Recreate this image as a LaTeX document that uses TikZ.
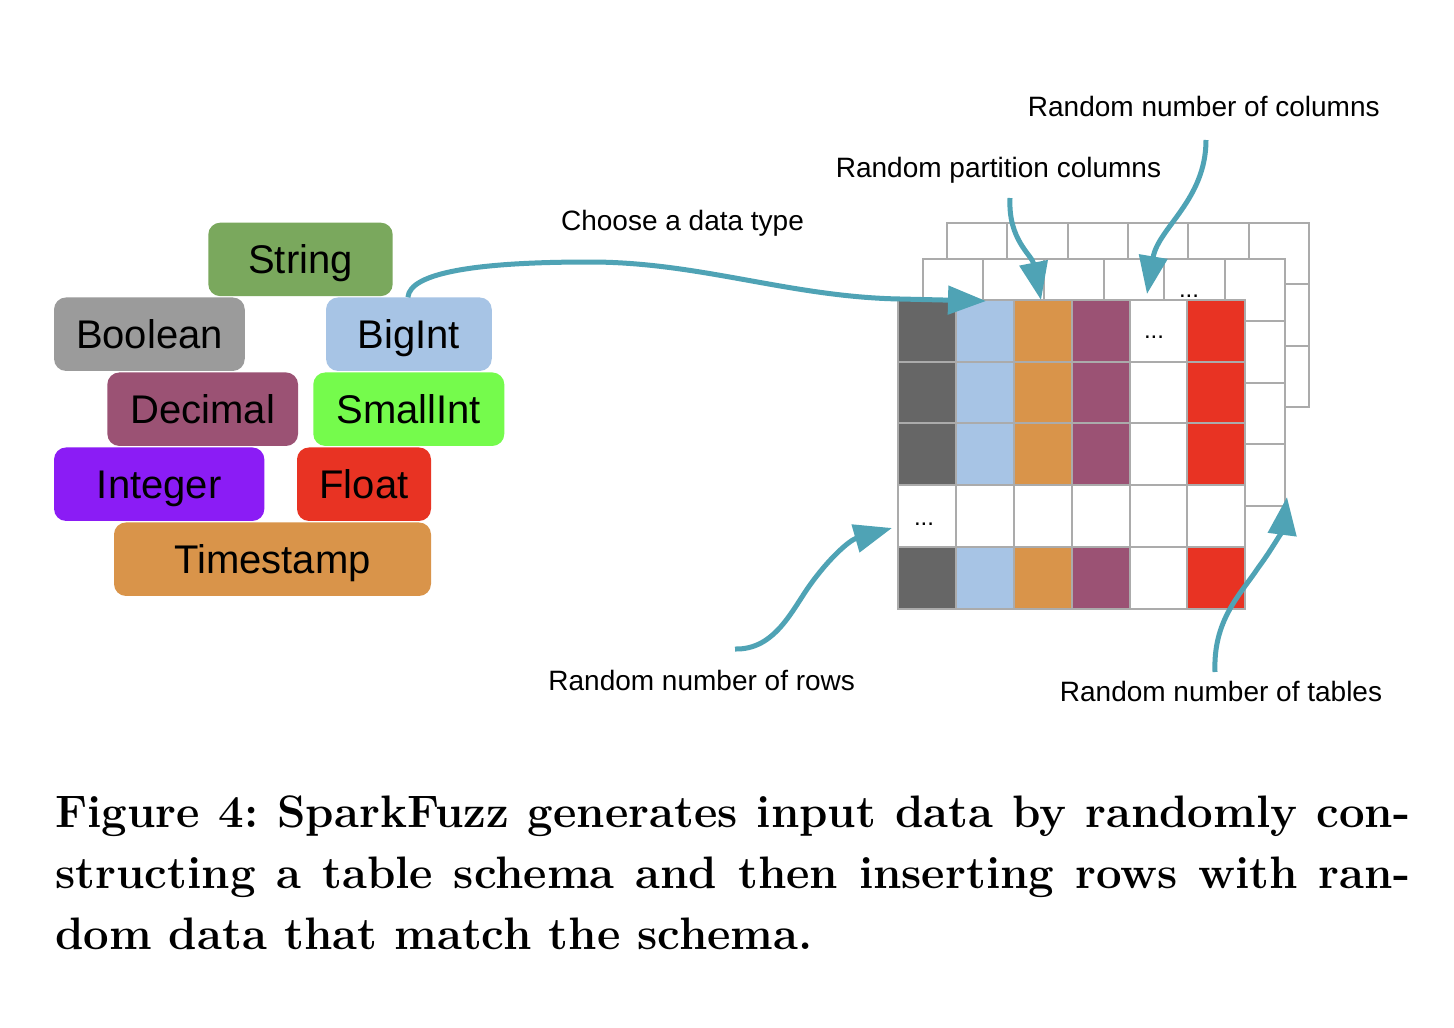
\documentclass[tikz,border=0pt]{standalone}
\usepackage{fontspec}
\newfontfamily\arialf{Liberation Sans}
\usetikzlibrary{arrows.meta}
\definecolor{arrowc}{HTML}{4FA3B5}
\definecolor{strgreen}{HTML}{7AA85D}
\definecolor{boolgray}{HTML}{9B9B9B}
\definecolor{bigblue}{HTML}{A7C4E5}
\definecolor{decpurple}{HTML}{9B5274}
\definecolor{smallgreen}{HTML}{75FB4C}
\definecolor{intviolet}{HTML}{8B1CF5}
\definecolor{floatred}{HTML}{E83323}
\definecolor{tsorange}{HTML}{D9944A}
\definecolor{darkcol}{HTML}{666666}
\definecolor{gridgray}{HTML}{ABABAB}
\frenchspacing
\begin{document}
\begin{tikzpicture}[x=1pt,y=-1pt,
  typebox/.style={rectangle, rounded corners=12pt, minimum height=73.5pt, inner sep=0pt,
    font=\arialf\fontsize{40}{41}\selectfont, text height=28.6pt, text depth=0pt},
  lbl/.style={inner sep=0pt, anchor=base, font=\arialf\fontsize{28}{30}\selectfont},
  dots/.style={inner sep=0pt, anchor=base, font=\arialf\fontsize{24}{26}\selectfont},
  gridline/.style={draw=gridgray, line width=2pt},
  conn/.style={draw=arrowc, line width=5pt, -{Triangle[length=38pt,width=28pt]}},
  captionline/.style={inner sep=0pt, anchor=base west, font=\fontsize{45.5}{52}\selectfont\bfseries}]
\useasboundingbox (0,0) rectangle (1454,1028);
\fill[white] (0,0) rectangle (1454,1028);

% ---------- type boxes ----------
\node[typebox, fill=strgreen,   minimum width=184.4pt] (string)    at (300.5,259.4) {String};
\node[typebox, fill=boolgray,   minimum width=190.7pt] (boolean)   at (149.4,334.2) {Boolean};
\node[typebox, fill=bigblue,    minimum width=165.7pt] (bigint)    at (408.9,334.2) {BigInt};
\node[typebox, fill=decpurple,  minimum width=190.7pt] (decimal)   at (202.7,409.2) {Decimal};
\node[typebox, fill=smallgreen, minimum width=191pt]   (smallint)  at (408.8,409.2) {SmallInt};
\node[typebox, fill=intviolet,  minimum width=210.3pt] (integer)   at (159.2,484.2) {Integer};
\node[typebox, fill=floatred,   minimum width=134pt]   (float)     at (364,484.2)   {Float};
\node[typebox, fill=tsorange,   minimum width=317pt]   (timestamp) at (272.5,559.2) {Timestamp};

% ---------- back table ----------
\foreach \c in {0,...,5}
  \foreach \r in {0,1,2}
    \filldraw[gridline, fill=white] ({946.7+\c*60.4},{222.7+\r*61.53}) rectangle ++(60.4,61.53);

% ---------- middle table ----------
\foreach \c in {0,...,5}
  \foreach \r in {0,...,3}
    \filldraw[gridline, fill=white] ({922.7+\c*60.4},{259+\r*61.75}) rectangle ++(60.4,61.75);
\node[dots] (middots) at (1189,297.5) {...};

% ---------- front table ----------
\foreach \c/\col in {0/darkcol,1/bigblue,2/tsorange,3/decpurple,4/white,5/floatred}{
  \foreach \r in {0,1,2,4}
    \fill[\col] ({898.3+\c*57.8},{300+\r*61.74}) rectangle ++(57.8,61.74);
  \fill[white] ({898.3+\c*57.8},{300+3*61.74}) rectangle ++(57.8,61.74);
}
\foreach \c in {0,...,5}
  \foreach \r in {0,...,4}
    \draw[gridline] ({898.3+\c*57.8},{300+\r*61.74}) rectangle ++(57.8,61.74);
\node[dots] (celldots1) at (1154,338) {...};
\node[dots] (celldots2) at (924,525) {...};

% ---------- labels ----------
\node[lbl] (collbl)    at (1203.8,116.7) {Random number of columns};
\node[lbl] (partlbl)   at (998.5,177)    {Random partition columns};
\node[lbl] (chooselbl) at (682.5,230)    {Choose a data type};
\node[lbl] (rowslbl)   at (701.7,690)    {Random number of rows};
\node[lbl] (tablelbl)  at (1221,701)     {Random number of tables};

% ---------- connector ends ----------
\coordinate (choosetip) at (986,301);
\coordinate (partstart) at (1010,198);
\coordinate (parttip)   at (1041,300);
\coordinate (colstart)  at (1206,140);
\coordinate (coltip)    at (1147,294);
\coordinate (rowstart)  at (735,649);
\coordinate (rowtip)    at (892,528);
\coordinate (tabstart)  at (1215,672);
\coordinate (tabtip)    at (1287,497);

% ---------- connectors ----------
\draw[conn] ([xshift=-1pt]bigint.north) .. controls (410,272) and (480,262) .. (590,262)
  .. controls (700,262) and (790,297) .. (900,299) -- (choosetip);
\draw[conn] (partstart) .. controls (1008,240) and (1032,255) .. (parttip);
\draw[conn] (colstart) .. controls (1206,200) and (1158,228) .. (coltip);
\draw[conn] (rowstart) .. controls (775,650) and (792,610) .. (810,585)
  .. controls (830,557) and (850,540) .. (rowtip);
\draw[conn] (tabstart) .. controls (1213,620) and (1240,595) .. (1258,568)
  .. controls (1275,545) and (1283,528) .. (tabtip);

% ---------- caption ----------
\node[captionline] (cap1) at (55,827) {\makebox[1355pt][s]{Figure 4: SparkFuzz generates input data by randomly con-}};
\node[captionline] (cap2) at (55,888) {\makebox[1355pt][s]{structing a table schema and then inserting rows with ran-}};
\node[captionline] (cap3) at (55,949) {dom data that match the schema.};
\end{tikzpicture}
\end{document}
